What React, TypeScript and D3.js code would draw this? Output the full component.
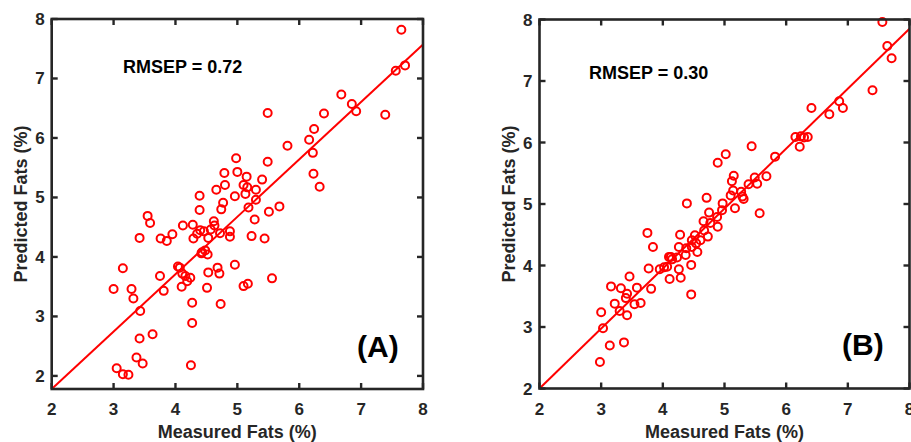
import React from 'react';
import * as d3 from 'd3';

// measured vs predicted fats (%), panel A
const measuredA = [
  7.65, 7.71, 7.56, 6.68, 6.85, 6.92, 7.39, 6.40, 5.49, 6.24, 6.16, 6.22, 5.81, 6.23, 6.33,
  4.98, 5.49, 5.00, 4.79, 5.15, 5.40, 5.10, 4.80, 4.66, 5.16, 5.30, 5.13, 4.96, 4.39, 5.30,
  4.77, 5.18, 5.68, 4.74, 4.39, 5.51, 3.55, 3.59, 5.28, 4.12, 4.28, 4.62, 4.63, 4.40, 4.46,
  4.57, 4.72, 4.88, 4.88, 4.35, 3.95, 3.76, 3.86, 3.42, 4.29, 4.53, 5.23, 5.44, 4.43, 4.48,
  4.52, 4.42, 3.15, 4.04, 4.07, 4.96, 4.68, 4.71, 4.53, 3.75, 4.11, 4.16, 4.24, 4.19, 4.10,
  3.00, 3.29, 3.32, 3.81, 4.51, 5.10, 5.17, 5.56, 4.27, 4.73, 3.43, 4.27, 3.63, 3.42, 3.37,
  3.47, 3.05, 3.15, 3.24, 4.25,
];
const predictedA = [
  7.82, 7.22, 7.13, 6.73, 6.57, 6.45, 6.39, 6.41, 6.42, 6.15, 5.97, 5.75, 5.87, 5.40, 5.18,
  5.66, 5.60, 5.43, 5.41, 5.35, 5.30, 5.21, 5.21, 5.13, 5.17, 5.13, 5.06, 5.02, 5.03, 4.96,
  4.91, 4.83, 4.85, 4.80, 4.79, 4.76, 4.69, 4.57, 4.63, 4.53, 4.54, 4.60, 4.53, 4.45, 4.43,
  4.46, 4.40, 4.43, 4.34, 4.39, 4.38, 4.31, 4.27, 4.32, 4.31, 4.32, 4.35, 4.31, 4.08, 4.11,
  4.04, 4.06, 3.81, 3.84, 3.82, 3.87, 3.82, 3.72, 3.74, 3.68, 3.72, 3.68, 3.65, 3.59, 3.50,
  3.46, 3.46, 3.30, 3.43, 3.48, 3.51, 3.55, 3.64, 3.23, 3.21, 3.09, 2.89, 2.70, 2.63, 2.31,
  2.21, 2.13, 2.03, 2.02, 2.18,
];

// panel B
const measuredB = [
  7.56, 7.64, 7.71, 7.40, 6.41, 6.70, 6.86, 6.92, 6.15, 6.24, 6.35, 6.22, 6.29, 5.82, 5.44,
  5.02, 4.89, 5.68, 5.15, 5.12, 5.49, 5.53, 5.39, 5.14, 5.10, 5.27, 5.29, 5.31, 5.17, 5.57,
  4.97, 4.96, 4.71, 4.39, 4.75, 4.88, 4.66, 4.77, 4.89, 4.67, 4.73, 4.61, 4.52, 4.28, 3.75,
  3.84, 4.26, 4.38, 4.47, 4.56, 4.37, 4.23, 4.10, 4.15, 4.07, 3.95, 3.77, 4.26, 4.46, 4.11,
  4.29, 4.46, 3.46, 3.16, 3.32, 3.58, 3.81, 3.42, 3.40, 3.22, 3.54, 3.64, 3.30, 3.42, 3.00,
  3.03, 3.14, 3.37, 2.98, 4.02, 4.13, 4.47, 4.54,
];
const predictedB = [
  7.96, 7.57, 7.37, 6.85, 6.56, 6.46, 6.67, 6.56, 6.09, 6.10, 6.09, 5.93, 6.08, 5.77, 5.94,
  5.81, 5.67, 5.45, 5.46, 5.37, 5.43, 5.33, 5.32, 5.22, 5.14, 5.20, 5.12, 5.08, 4.93, 4.85,
  5.01, 4.90, 5.10, 5.01, 4.86, 4.79, 4.72, 4.69, 4.63, 4.57, 4.47, 4.41, 4.49, 4.50, 4.53,
  4.30, 4.30, 4.28, 4.30, 4.22, 4.17, 4.13, 4.14, 4.10, 3.98, 3.94, 3.95, 3.94, 4.01, 3.78,
  3.80, 3.53, 3.82, 3.66, 3.63, 3.64, 3.62, 3.54, 3.47, 3.38, 3.37, 3.39, 3.26, 3.19, 3.24,
  2.98, 2.70, 2.75, 2.43, 3.97, 4.14, 4.41, 4.36,
];

// fitted lines (end points)
const fitA = [[2, 1.78], [8, 7.57]];
const fitB = [[2, 2.0], [8, 7.85]];

const xTicks = [2, 3, 4, 5, 6, 7, 8];
const yTicks = [2, 3, 4, 5, 6, 7, 8];

const AXIS = '#262626';
const RED = '#ff0000';
const FONT = '"Liberation Sans", Arial, Helvetica, sans-serif';

type PanelProps = {
  xs: number[];
  ys: number[];
  fit: number[][];
  yMin: number;
  left: number;
  right: number;
  top: number;
  bottom: number;
  rmsep: string;
  rmsepX: number;
  rmsepY: number;
  tag: string;
  tagX: number;
  tagY: number;
};

function Panel(p: PanelProps) {
  const x = d3.scaleLinear().domain([2, 8]).range([p.left, p.right]);
  const y = d3.scaleLinear().domain([p.yMin, 8]).range([p.bottom, p.top]);
  const line = d3.line<number[]>().x(d => x(d[0])).y(d => y(d[1]));
  const tl = 6;
  const cx = (p.left + p.right) / 2;
  const cy = (p.top + p.bottom) / 2;

  return (
    <g>
      <path d={line(p.fit) || ''} stroke={RED} strokeWidth={2} fill="none" />
      {p.xs.map((v, i) => (
        <circle key={i} cx={x(v)} cy={y(p.ys[i])} r={4} fill="none" stroke={RED} strokeWidth={2} />
      ))}

      {xTicks.map(t => (
        <g key={'x' + t}>
          <line x1={x(t)} x2={x(t)} y1={p.bottom} y2={p.bottom - tl} stroke={AXIS} strokeWidth={2.4} />
          <line x1={x(t)} x2={x(t)} y1={p.top} y2={p.top + tl} stroke={AXIS} strokeWidth={2.4} />
          <text x={x(t)} y={p.bottom + 26} textAnchor="middle" fontSize={17} fontWeight="bold" fill={AXIS}>
            {t}
          </text>
        </g>
      ))}
      {yTicks.map(t => (
        <g key={'y' + t}>
          <line x1={p.left} x2={p.left + tl} y1={y(t)} y2={y(t)} stroke={AXIS} strokeWidth={2.4} />
          <line x1={p.right} x2={p.right - tl} y1={y(t)} y2={y(t)} stroke={AXIS} strokeWidth={2.4} />
          <text x={p.left - 7} y={y(t) + 6} textAnchor="end" fontSize={17} fontWeight="bold" fill={AXIS}>
            {t}
          </text>
        </g>
      ))}
      <rect x={p.left} y={p.top} width={p.right - p.left} height={p.bottom - p.top}
        fill="none" stroke={AXIS} strokeWidth={2.6} />

      <text x={cx} y={438} textAnchor="middle" fontSize={18} fontWeight="bold" fill={AXIS}>
        Measured Fats (%)
      </text>
      <text transform={`translate(${p.left - 25},${cy}) rotate(-90)`} textAnchor="middle"
        fontSize={18} fontWeight="bold" fill={AXIS}>
        Predicted Fats (%)
      </text>

      <text x={p.rmsepX} y={p.rmsepY} fontSize={18} fontWeight="bold" fill="#000">
        {p.rmsep}
      </text>
      <text x={p.tagX} y={p.tagY} fontSize={30} fontWeight="bold" fill="#000">
        {p.tag}
      </text>
    </g>
  );
}

export default function App() {
  return (
    <div style={{ position: 'absolute', left: 0, top: 0 }}>
      <svg width={911} height={442} style={{ display: 'block', fontFamily: FONT, background: '#fff' }}>
        <Panel xs={measuredA} ys={predictedA} fit={fitA} yMin={1.78}
          left={51.7} right={423} top={19} bottom={389}
          rmsep="RMSEP = 0.72" rmsepX={123} rmsepY={73}
          tag="(A)" tagX={357} tagY={357} />
        <Panel xs={measuredB} ys={predictedB} fit={fitB} yMin={2}
          left={539.5} right={909.5} top={19.5} bottom={388.5}
          rmsep="RMSEP = 0.30" rmsepX={589} rmsepY={79}
          tag="(B)" tagX={842} tagY={355} />
      </svg>
    </div>
  );
}
